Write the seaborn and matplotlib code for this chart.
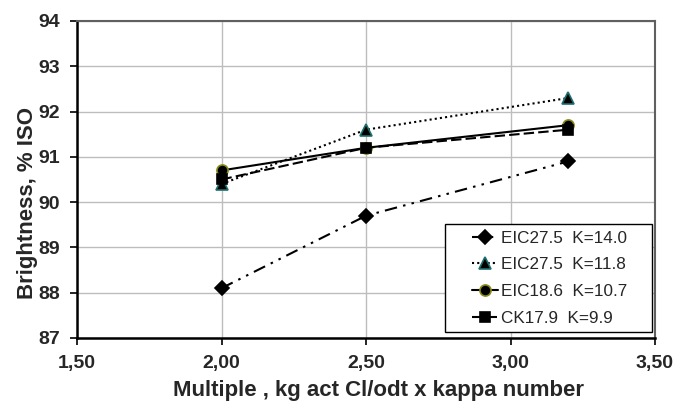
import matplotlib
matplotlib.use("Agg")
import matplotlib.pyplot as plt
from matplotlib.patches import Rectangle
import seaborn as sns
import pandas as pd

x_values = [2.0, 2.5, 3.2]
series_names = ["EIC27.5  K=14.0", "EIC27.5  K=11.8", "EIC18.6  K=10.7", "CK17.9  K=9.9"]
s1 = [88.1, 89.7, 90.9]
s2 = [90.4, 91.6, 92.3]
s3 = [90.7, 91.2, 91.7]
s4 = [90.5, 91.2, 91.6]
x_ticks = [1.5, 2.0, 2.5, 3.0, 3.5]
x_ticklabels = ["1,50", "2,00", "2,50", "3,00", "3,50"]
y_ticks = [87, 88, 89, 90, 91, 92, 93, 94]

sns.set_theme(style="white")
plt.rcParams['font.family'] = ['Liberation Sans', 'DejaVu Sans']

rows = []
for name, vals in zip(series_names, [s1, s2, s3, s4]):
    for xv, yv in zip(x_values, vals):
        rows.append({"x": xv, "y": yv, "series": name})
df = pd.DataFrame(rows)

fig = plt.figure(figsize=(6.88, 4.03), dpi=100)
ax = fig.add_axes([77/688, 1-338/403, (655-77)/688, (338-21)/403])

styles = {
    series_names[0]: dict(marker="D", ls=(0, (6, 3, 1.2, 3, 1.2, 3)), mfc="black", mec="black", ms=7.5),
    series_names[1]: dict(marker="^", ls=(0, (1, 1.5)), mfc="black", mec="#1e6e6e", ms=8.5),
    series_names[2]: dict(marker="o", ls="-", mfc="black", mec="#8a8a1a", ms=8),
    series_names[3]: dict(marker="s", ls=(0, (5, 2)), mfc="black", mec="black", ms=7.5),
}

for name in series_names:
    st = styles[name]
    sub = df[df["series"] == name]
    sns.lineplot(data=sub, x="x", y="y", ax=ax, color="black", lw=1.5,
                 linestyle=st["ls"], marker=st["marker"], markersize=st["ms"],
                 markerfacecolor=st["mfc"], markeredgecolor=st["mec"], markeredgewidth=1.2,
                 label=name, zorder=3)

ax.set_xlim(1.5, 3.5)
ax.set_ylim(87, 94)
ax.set_xticks(x_ticks)
ax.set_xticklabels(x_ticklabels)
ax.set_yticks(y_ticks)
ax.grid(True, color="#bdbdbd", lw=1.0)
for side in ["top", "right"]:
    ax.spines[side].set_color("#606060")
    ax.spines[side].set_linewidth(1.5)
for side in ["left", "bottom"]:
    ax.spines[side].set_color("black")
    ax.spines[side].set_linewidth(1.8)
ax.tick_params(axis="both", which="major", direction="out", length=5, width=1.2,
               color="black", labelsize=14, bottom=True, left=True)
ax.tick_params(axis="x", pad=7)
ax.tick_params(axis="y", pad=7)
for lbl in ax.get_xticklabels() + ax.get_yticklabels():
    lbl.set_fontweight("bold")
ax.set_xlabel("Multiple , kg act Cl/odt x kappa number", fontsize=16, fontweight="bold")
ax.set_ylabel("Brightness, % ISO", fontsize=16, fontweight="bold")
ax.xaxis.set_label_coords(0.521, -0.134)
ax.yaxis.set_label_coords(-0.068, 0.426)

# legend box (white background with black border)
box = Rectangle((0.6367, 0.019), 0.358, 0.3407, transform=ax.transAxes,
                facecolor="white", edgecolor="black", lw=1.0, zorder=4.5, clip_on=False)
ax.add_patch(box)
leg = ax.legend(loc="upper left", bbox_to_anchor=(0.6834, 0.338), frameon=False,
                fontsize=12.3, handlelength=1.5, handletextpad=0.2,
                borderpad=0.0, borderaxespad=0.0, labelspacing=0.68)
leg.set_zorder(5)

fig.savefig("out.png", dpi=100)
